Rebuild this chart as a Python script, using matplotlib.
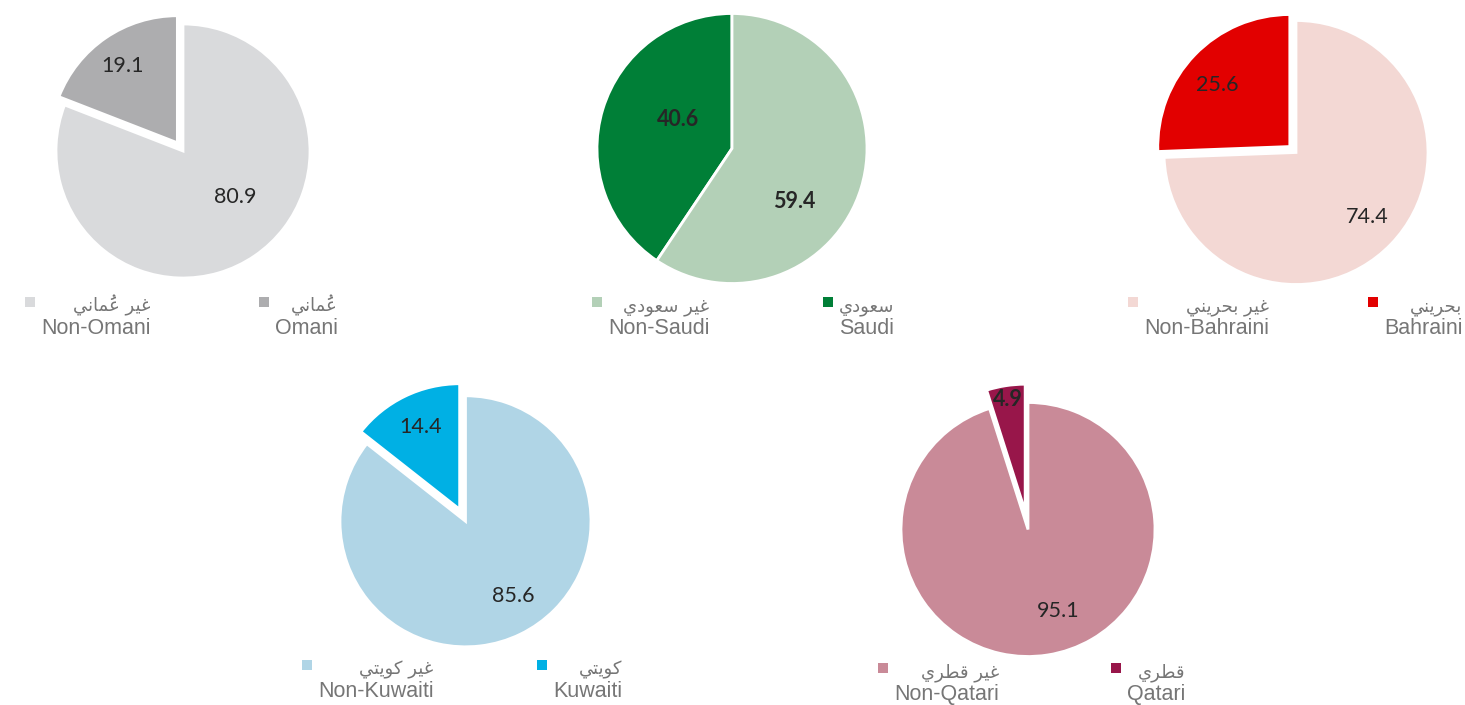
import unicodedata
import matplotlib
matplotlib.use("Agg")
import matplotlib.pyplot as plt
from matplotlib.patches import Rectangle

W, H = 1465, 705

# ---------------- data ----------------
national_share = [19.1, 40.6, 25.6, 14.4, 4.9]
non_national_share = [80.9, 59.4, 74.4, 85.6, 95.1]
national_ar = ["عُماني", "سعودي", "بحريني", "كويتي", "قطري"]
non_national_ar = ["غير عُماني", "غير سعودي", "غير بحريني", "غير كويتي", "غير قطري"]
national_en = ["Omani", "Saudi", "Bahraini", "Kuwaiti", "Qatari"]
non_national_en = ["Non-Omani", "Non-Saudi", "Non-Bahraini", "Non-Kuwaiti", "Non-Qatari"]

national_colors = ["#ADADAF", "#007F37", "#E20000", "#00B0E4", "#98164A"]
non_national_colors = ["#D9DADC", "#B3D0B7", "#F3D8D4", "#B0D5E6", "#C98A98"]

# ---------------- layout (pixels, y measured from top) ----------------
centers = [(183, 151), (732, 148.5), (1296, 152.5), (465.5, 521.3), (1028, 529.5)]
radii = [127, 135, 132, 125.5, 127]
explode_px = [10, 0, 8.6, 13.4, 18.5]
label_offsets = [((-0.476, 0.667), (0.413, -0.365)),
                 ((-0.396, 0.213), (0.463, -0.392)),
                 ((-0.598, 0.510), (0.540, -0.490)),
                 ((-0.357, 0.749), (0.381, -0.592)),
                 ((-0.159, 1.020), (0.238, -0.639))]
bold_labels = [(False, False), (True, True), (False, False), (False, False), (True, False)]
legend_sq_x = [(264, 30), (828, 597), (1373, 1133), (542, 307), (1116, 883)]
legend_sq_y = [302, 302, 302, 665, 668]

# ---------------- simple Arabic shaping (visual order) ----------------
FORMS = {
    '\u0627': ('\uFE8D', '\uFE8E', None, None),
    '\u0628': ('\uFE8F', '\uFE90', '\uFE91', '\uFE92'),
    '\u062A': ('\uFE95', '\uFE96', '\uFE97', '\uFE98'),
    '\u062D': ('\uFEA1', '\uFEA2', '\uFEA3', '\uFEA4'),
    '\u062F': ('\uFEA9', '\uFEAA', None, None),
    '\u0631': ('\uFEAD', '\uFEAE', None, None),
    '\u0633': ('\uFEB1', '\uFEB2', '\uFEB3', '\uFEB4'),
    '\u0637': ('\uFEC1', '\uFEC2', '\uFEC3', '\uFEC4'),
    '\u0639': ('\uFEC9', '\uFECA', '\uFECB', '\uFECC'),
    '\u063A': ('\uFECD', '\uFECE', '\uFECF', '\uFED0'),
    '\u0642': ('\uFED5', '\uFED6', '\uFED7', '\uFED8'),
    '\u0643': ('\uFED9', '\uFEDA', '\uFEDB', '\uFEDC'),
    '\u0645': ('\uFEE1', '\uFEE2', '\uFEE3', '\uFEE4'),
    '\u0646': ('\uFEE5', '\uFEE6', '\uFEE7', '\uFEE8'),
    '\u0648': ('\uFEED', '\uFEEE', None, None),
    '\u064A': ('\uFEF1', '\uFEF2', '\uFEF3', '\uFEF4'),
}


def shape_arabic(s):
    clusters = []
    for ch in s:
        if unicodedata.combining(ch) and clusters:
            clusters[-1][1].append(ch)
        else:
            clusters.append([ch, []])
    n = len(clusters)

    def dual(c):
        f = FORMS.get(c)
        return f is not None and f[2] is not None

    out = []
    for i, (c, marks) in enumerate(clusters):
        f = FORMS.get(c)
        if f is None:
            out.append(''.join(marks) + c)
            continue
        jp = i > 0 and dual(clusters[i - 1][0])
        jn = f[2] is not None and i < n - 1 and clusters[i + 1][0] in FORMS
        if jp and jn:
            g = f[3]
        elif jp:
            g = f[1]
        elif jn:
            g = f[2]
        else:
            g = f[0]
        out.append(''.join(marks) + g)
    return ''.join(reversed(out))


# ---------------- figure ----------------
fig = plt.figure(figsize=(W / 100, H / 100), dpi=100)
ax = fig.add_axes([0, 0, 1, 1])
ax.set_xlim(0, W)
ax.set_ylim(0, H)
renderer = fig.canvas.get_renderer()

label_color = "#262626"
legend_color = "#767676"

for i in range(5):
    cx, cy = centers[i]
    r = radii[i]
    vals = [national_share[i], non_national_share[i]]
    wedges, texts, autotexts = ax.pie(
        vals,
        colors=[national_colors[i], non_national_colors[i]],
        startangle=90, counterclock=True,
        explode=[explode_px[i], 0],
        center=(cx, H - cy), radius=r,
        autopct=lambda p: f"{p:.1f}",
        wedgeprops=dict(edgecolor="white", linewidth=2),
        textprops=dict(family="Lato", fontsize=15.5, color=label_color),
        frame=True,
    )
    for j, t in enumerate(autotexts):
        t.set_text(f"{vals[j]:.1f}")
        ox, oy = label_offsets[i][j]
        t.set_position((cx + ox * r, H - cy + oy * r))
        t.set_ha("center")
        t.set_va("center")
        if bold_labels[i][j]:
            t.set_fontweight("bold")

    # legend: national entry (right) and non-national entry (left)
    entries = [(national_ar[i], national_en[i], national_colors[i]),
               (non_national_ar[i], non_national_en[i], non_national_colors[i])]
    for k, (ar, en, col) in enumerate(entries):
        sx = legend_sq_x[i][k]
        sy = legend_sq_y[i]
        ax.add_patch(Rectangle((sx - 5, H - sy - 5), 10, 10, facecolor=col,
                               edgecolor="none"))
        left = sx + 11
        t_ar = ax.text(left, H - sy - 9, shape_arabic(ar), ha="left", va="baseline",
                       family="DejaVu Sans", fontsize=13, color=legend_color)
        t_en = ax.text(left, H - sy - 32, en, ha="left", va="baseline",
                       family="Liberation Sans", fontsize=15.5, color=legend_color)
        w = max(t_ar.get_window_extent(renderer).width,
                t_en.get_window_extent(renderer).width)
        for t in (t_ar, t_en):
            t.set_ha("right")
            t.set_x(left + w)

ax.set_xlim(0, W)
ax.set_ylim(0, H)
ax.set_aspect("equal")
ax.axis("off")

fig.savefig("out.png", dpi=100)
